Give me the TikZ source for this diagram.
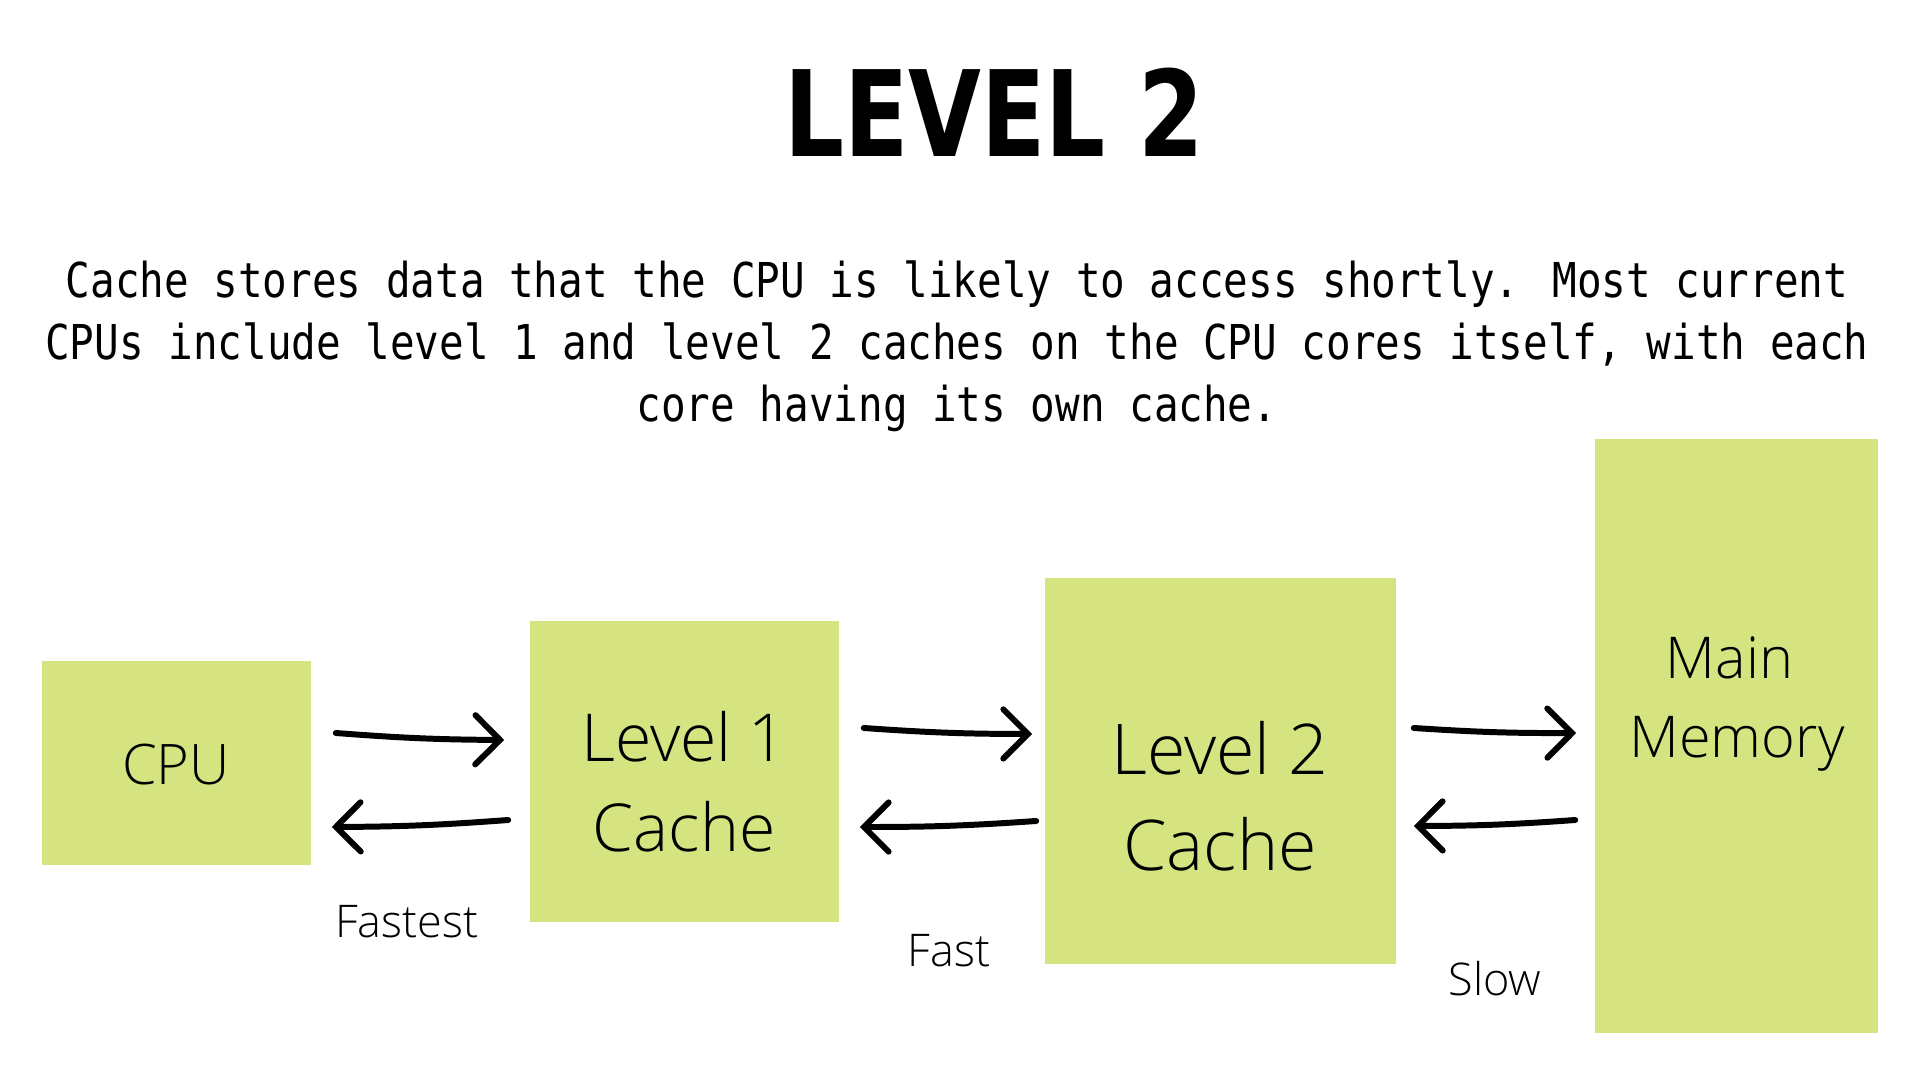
\documentclass[tikz,border=0pt]{standalone}
\usepackage{fontspec}
\usepackage{tikz}
\usetikzlibrary{calc,arrows.meta}

\newfontfamily\titlefont{DejaVu Sans}[FakeStretch=0.79]
\newfontfamily\parafont{DejaVu Sans Mono}[FakeStretch=0.852]
\newfontfamily\boxfont{Open Sans Light}
\definecolor{cachegreen}{HTML}{D5E480}

\tikzset{
	box/.style={fill=cachegreen, inner sep=0pt},
	boxtext/.style={font=\boxfont, align=center, inner sep=0pt},
	speed/.style={font=\boxfont\fontsize{12.8pt}{15pt}\selectfont, anchor=base, inner sep=0pt},
	flow/.style={line width=1.7pt, line cap=round, -{Straight Barb[length=7pt,width=14pt,line cap=round]}},
}

\begin{document}
\begin{tikzpicture}[x=0.01cm, y=-0.01cm]
\useasboundingbox[fill=white] (0,0) rectangle (1920,1080);

\node[anchor=base, inner sep=0pt, font=\titlefont\bfseries\fontsize{33.9pt}{40pt}\selectfont] (title) at (994,157) {LEVEL 2};
\node[align=center, inner sep=0pt, font=\parafont\fontsize{13.66pt}{17.64pt}\selectfont] (intro) at (957,346) {Cache stores data that the CPU is likely to access shortly. Most current\\CPUs include level 1 and level 2 caches on the CPU cores itself, with each\\core having its own cache.};

% the four boxes
\node[box, minimum width=2.69cm, minimum height=2.04cm] (cpu) at (176.5,763) {};
\node[box, minimum width=3.09cm, minimum height=3.01cm] (l1) at (684.5,771.5) {};
\node[box, minimum width=3.51cm, minimum height=3.86cm] (l2) at (1220.5,771) {};
\node[box, minimum width=2.83cm, minimum height=5.94cm] (mem) at (1736.5,736) {};

\node[boxtext, anchor=base, font=\boxfont\fontsize{15.9pt}{19pt}\selectfont] (cputxt) at (176,785) {CPU};
\node[boxtext, font=\boxfont\fontsize{18.8pt}{25.6pt}\selectfont] (l1txt) at (684,782) {Level 1\\Cache};
\node[boxtext, font=\boxfont\fontsize{19.9pt}{27.3pt}\selectfont] (l2txt) at (1220,796) {Level 2\\Cache};
\node[boxtext, font=\boxfont\fontsize{16.4pt}{22.5pt}\selectfont] (memtxt) at (1737,704) {Main\kern0.26em\\Memory};

% arrows there and back
\draw[flow] ($(cpu.east)+(24,-30)$) to[bend right=2] ($(l1.west)+(-25,-31.5)$);
\draw[flow] ($(l1.west)+(-21,48.5)$) to[bend left=2] ($(cpu.east)+(20,64)$);
\draw[flow] ($(l1.east)+(24,-43.5)$) to[bend right=2] ($(l2.west)+(-12,-37)$);
\draw[flow] ($(l2.west)+(-8,50)$) to[bend left=2] ($(l1.east)+(20,55.5)$);
\draw[flow] ($(l2.east)+(17,-43)$) to[bend right=2] ($(mem.west)+(-18,-3)$);
\draw[flow] ($(mem.west)+(-19,84)$) to[bend left=2] ($(l2.east)+(17,55)$);

\node[speed] (fastest) at (407,938) {Fastest};
\node[speed] (fast) at (949,967) {Fast};
\node[speed] (slow) at (1495,996) {Slow};
\end{tikzpicture}
\end{document}
